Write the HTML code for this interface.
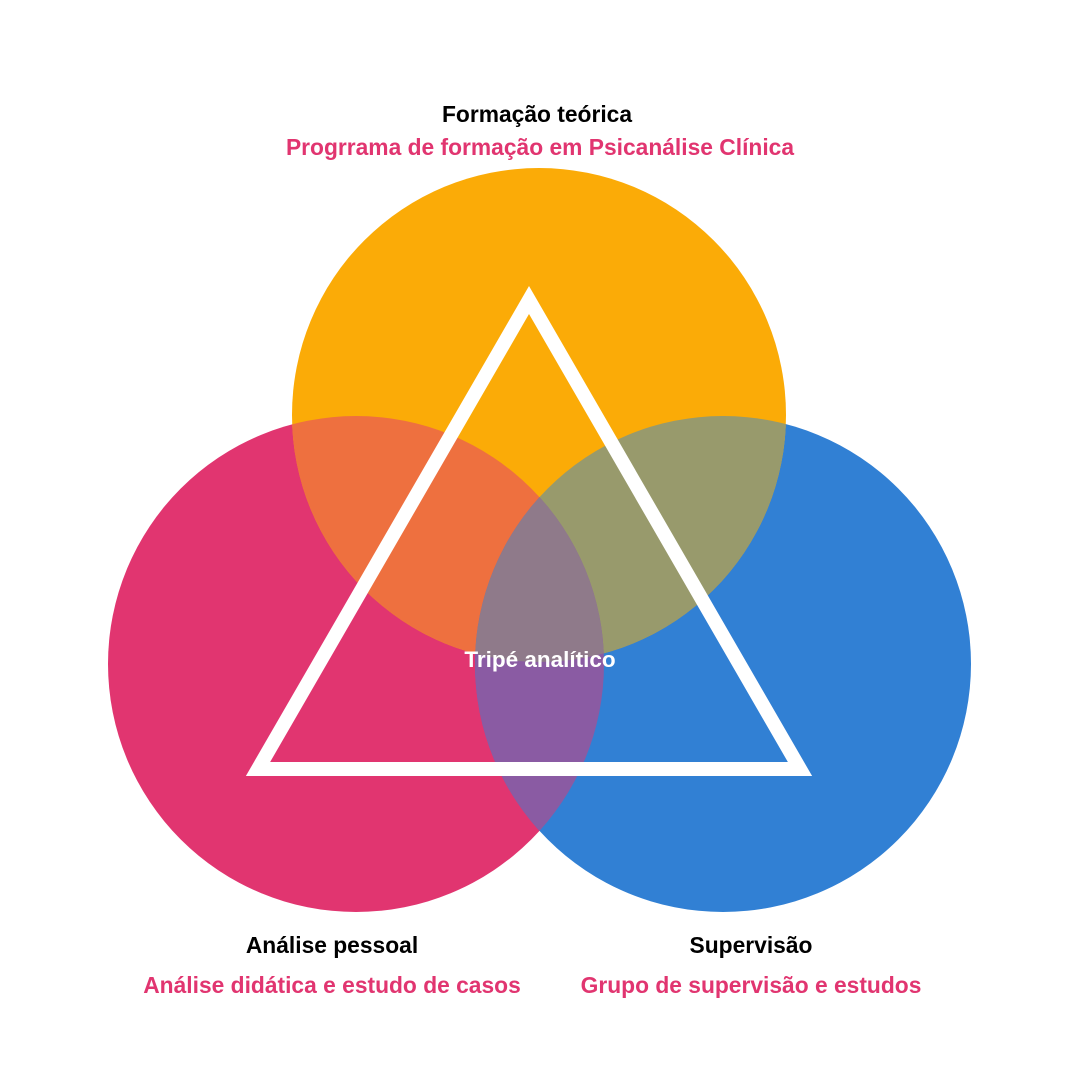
<!DOCTYPE html>
<html><head><meta charset="utf-8"><style>
html,body{margin:0;padding:0;background:#fff}
svg text{font-family:"Liberation Sans",sans-serif;font-weight:bold}
</style></head><body>
<svg width="1080" height="1080" viewBox="0 0 1080 1080" xmlns="http://www.w3.org/2000/svg">
<defs>
<clipPath id="cO"><circle cx="539" cy="415" r="247"/></clipPath>
<clipPath id="cP"><circle cx="356" cy="664" r="248"/></clipPath>
</defs>
<rect width="1080" height="1080" fill="#fff"/>
<circle cx="356" cy="664" r="248" fill="#E13570"/>
<circle cx="723" cy="664" r="248" fill="#3180D4"/>
<circle cx="539" cy="415" r="247" fill="#FBAB07"/>
<g clip-path="url(#cO)"><circle cx="356" cy="664" r="248" fill="#EE703F"/><circle cx="723" cy="664" r="248" fill="#989A6C"/></g>
<g clip-path="url(#cP)"><circle cx="723" cy="664" r="248" fill="#8A5BA3"/></g>
<g clip-path="url(#cO)"><g clip-path="url(#cP)"><circle cx="723" cy="664" r="248" fill="#8F7A8A"/></g></g>
<polygon points="529,300 258,769 800,769" fill="none" stroke="#fff" stroke-width="14" stroke-linejoin="miter" stroke-miterlimit="10"/>
<text x="537" y="122" text-anchor="middle" font-size="22.8" fill="#000">Formação teórica</text>
<text x="540" y="155" text-anchor="middle" font-size="22.8" fill="#E13570">Progrrama de formação em Psicanálise Clínica</text>
<text x="540" y="667" text-anchor="middle" font-size="22.5" fill="#fff">Tripé analítico</text>
<text x="332" y="953" text-anchor="middle" font-size="22.8" fill="#000">Análise pessoal</text>
<text x="332" y="993" text-anchor="middle" font-size="22.8" fill="#E13570">Análise didática e estudo de casos</text>
<text x="751" y="953" text-anchor="middle" font-size="22.8" fill="#000">Supervisão</text>
<text x="751" y="993" text-anchor="middle" font-size="22.8" fill="#E13570">Grupo de supervisão e estudos</text>
</svg>
</body></html>
